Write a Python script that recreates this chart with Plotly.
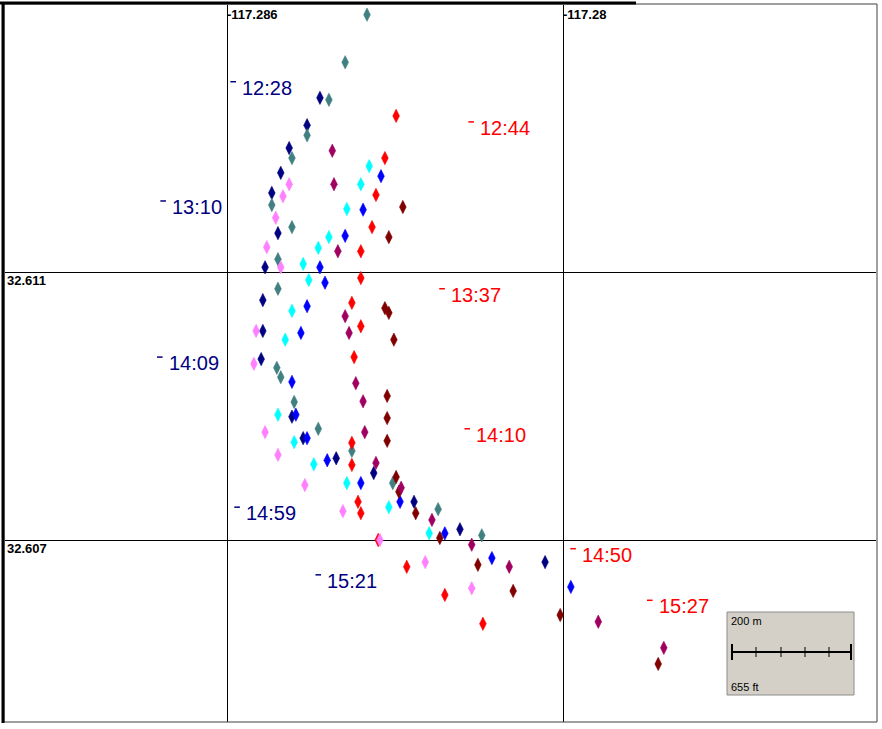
import plotly.graph_objects as go

# ---------------- data (lon, lat) ----------------
navy_lon = [-117.28434, -117.28457, -117.28489, -117.28504, -117.28520, -117.28509, -117.28532, -117.28536,
            -117.28536, -117.28539, -117.28484, -117.28464, -117.28405, -117.28338, -117.28266, -117.28184, -117.28032]
navy_lat = [32.61360, 32.61319, 32.61285, 32.61248, 32.61218, 32.61158, 32.61107, 32.61058,
            32.61012, 32.60970, 32.60884, 32.60852, 32.60822, 32.60800, 32.60757, 32.60716, 32.60667]

teal_lon = [-117.28350, -117.28389, -117.28418, -117.28457, -117.28484, -117.28520, -117.28484, -117.28509,
            -117.28509, -117.28511, -117.28504, -117.28480, -117.28437, -117.28377, -117.28304, -117.28223, -117.28145]
teal_lat = [32.61484, 32.61413, 32.61357, 32.61304, 32.61270, 32.61200, 32.61167, 32.61119,
            32.61075, 32.60957, 32.60943, 32.60906, 32.60866, 32.60833, 32.60785, 32.60746, 32.60707]

violet_lon = [-117.28489, -117.28500, -117.28513, -117.28529, -117.28504, -117.28548, -117.28552,
              -117.28532, -117.28509, -117.28461, -117.28393, -117.28327, -117.28246, -117.28163]
violet_lat = [32.61231, 32.61213, 32.61181, 32.61137, 32.61107, 32.61012, 32.60963,
              32.60861, 32.60827, 32.60782, 32.60743, 32.60700, 32.60667, 32.60628]

cyan_lon = [-117.28346, -117.28361, -117.28386, -117.28418, -117.28437, -117.28464, -117.28454, -117.28484,
            -117.28496, -117.28509, -117.28480, -117.28445, -117.28386, -117.28311, -117.28239]
cyan_lat = [32.61258, 32.61231, 32.61194, 32.61152, 32.61136, 32.61112, 32.61088, 32.61042,
            32.60999, 32.60887, 32.60846, 32.60813, 32.60785, 32.60749, 32.60710]

blue_lon = [-117.28325, -117.28357, -117.28389, -117.28434, -117.28425, -117.28457, -117.28468, -117.28484,
            -117.28477, -117.28457, -117.28421, -117.28361, -117.28291, -117.28211, -117.28127, -117.27986]
blue_lat = [32.61243, 32.61193, 32.61154, 32.61107, 32.61084, 32.61049, 32.61009, 32.60936,
            32.60887, 32.60852, 32.60819, 32.60785, 32.60757, 32.60710, 32.60673, 32.60630]

red_lon = [-117.28298, -117.28318, -117.28334, -117.28341, -117.28361, -117.28361, -117.28377, -117.28361,
           -117.28373, -117.28377, -117.28377, -117.28366, -117.28361, -117.28330, -117.28279, -117.28211, -117.28143]
red_lat = [32.61333, 32.61270, 32.61215, 32.61167, 32.61131, 32.61091, 32.61054, 32.61019,
           32.60973, 32.60845, 32.60812, 32.60757, 32.60740, 32.60700, 32.60660, 32.60618, 32.60575]

maroon_lon = [-117.28286, -117.28311, -117.28318, -117.28311, -117.28302, -117.28314, -117.28314, -117.28314,
              -117.28298, -117.28293, -117.28263, -117.28220, -117.28152, -117.28089, -117.28005, -117.27830]
maroon_lat = [32.61197, 32.61152, 32.61046, 32.61039, 32.60999, 32.60915, 32.60882, 32.60848,
              32.60794, 32.60772, 32.60740, 32.60703, 32.60663, 32.60624, 32.60588, 32.60515]

crimson_lon = [-117.28412, -117.28409, -117.28402, -117.28389, -117.28382, -117.28370, -117.28357, -117.28354,
               -117.28334, -117.28289, -117.28234, -117.28163, -117.28096, -117.27937, -117.27820]
crimson_lat = [32.61281, 32.61231, 32.61131, 32.61034, 32.61009, 32.60934, 32.60907, 32.60861,
               32.60815, 32.60778, 32.60730, 32.60693, 32.60660, 32.60578, 32.60539]

# time labels
navy_label_text = ["12:28", "13:10", "14:09", "14:59", "15:21"]
navy_label_lon = [-117.28589, -117.28714, -117.28720, -117.28582, -117.28437]
navy_label_lat = [32.61384, 32.61206, 32.60973, 32.60749, 32.60648]
red_label_text = ["12:44", "13:37", "14:10", "14:50", "15:27"]
red_label_lon = [-117.28164, -117.28216, -117.28171, -117.27982, -117.27845]
red_label_lat = [32.61324, 32.61075, 32.60866, 32.60687, 32.60610]

lon_ticks = [-117.286, -117.28]
lon_tick_text = ["-117.286", "-117.28"]
lat_ticks = [32.611, 32.607]
lat_tick_text = ["32.611", "32.607"]

scale_top_text = "200 m"
scale_bottom_text = "655 ft"

# ---------------- figure ----------------
W, H = 882, 729
ML, MR, MT, MB = 5, 6, 5, 7
PW, PH = W - ML - MR, H - MT - MB


def px(x):
    return (x - ML) / PW


def py(y):
    return (H - MB - y) / PH


fig = go.Figure()

series = [
    (navy_lon, navy_lat, "#000080"),
    (teal_lon, teal_lat, "#408080"),
    (red_lon, red_lat, "#FF0000"),
    (violet_lon, violet_lat, "#FF80FF"),
    (cyan_lon, cyan_lat, "#00FFFF"),
    (blue_lon, blue_lat, "#0000FF"),
    (maroon_lon, maroon_lat, "#800000"),
    (crimson_lon, crimson_lat, "#A00060"),
]
for lon, lat, col in series:
    fig.add_trace(go.Scatter(
        x=lon, y=lat, mode="markers",
        marker=dict(symbol="diamond-tall", size=9.5, color=col, line=dict(width=0.6, color=col)),
        showlegend=False, hoverinfo="x+y"))

annotations = []
for texts, lons, lats, col in [(navy_label_text, navy_label_lon, navy_label_lat, "#000080"),
                               (red_label_text, red_label_lon, red_label_lat, "#FF0000")]:
    fig.add_trace(go.Scatter(
        x=lons, y=lats, mode="markers",
        marker=dict(symbol="line-ew", size=4, line=dict(width=1.5, color=col)),
        showlegend=False, hoverinfo="skip"))
    for t, lo, la in zip(texts, lons, lats):
        annotations.append(dict(x=lo, y=la, text=t, showarrow=False, xanchor="left", yanchor="middle",
                                xshift=8, yshift=-6, borderpad=0,
                                font=dict(family="Liberation Sans, Arial", size=20, color=col)))

for v, t in zip(lon_ticks, lon_tick_text):
    annotations.append(dict(x=v, y=1, xref="x", yref="paper", text="<b>%s</b>" % t, showarrow=False,
                            xanchor="left", yanchor="top", xshift=-1, yshift=-1, borderpad=0,
                            font=dict(family="Liberation Sans, Arial", size=13, color="black")))
for v, t in zip(lat_ticks, lat_tick_text):
    annotations.append(dict(x=0, y=v, xref="paper", yref="y", text="<b>%s</b>" % t, showarrow=False,
                            xanchor="left", yanchor="top", xshift=1, yshift=0, borderpad=0,
                            font=dict(family="Liberation Sans, Arial", size=13, color="black")))

# scale bar box
shapes = []
shapes.append(dict(type="rect", xref="paper", yref="paper", x0=px(727), x1=px(854), y0=py(695), y1=py(612),
                   fillcolor="#D4D0C8", line=dict(color="#8C8C8C", width=1), layer="above"))
shapes.append(dict(type="line", xref="paper", yref="paper", x0=px(732), x1=px(851), y0=py(652), y1=py(652),
                   line=dict(color="black", width=2), layer="above"))
for tx in [732, 851]:
    shapes.append(dict(type="line", xref="paper", yref="paper", x0=px(tx), x1=px(tx), y0=py(660), y1=py(644),
                       line=dict(color="black", width=2), layer="above"))
for tx in [756, 781, 805, 829]:
    shapes.append(dict(type="line", xref="paper", yref="paper", x0=px(tx), x1=px(tx), y0=py(657), y1=py(647),
                       line=dict(color="black", width=1), layer="above"))
annotations.append(dict(x=px(730), y=py(621), xref="paper", yref="paper", text=scale_top_text, showarrow=False,
                        xanchor="left", yanchor="middle", borderpad=0,
                        font=dict(family="Liberation Sans, Arial", size=11, color="black")))
annotations.append(dict(x=px(730), y=py(687), xref="paper", yref="paper", text=scale_bottom_text, showarrow=False,
                        xanchor="left", yanchor="middle", borderpad=0,
                        font=dict(family="Liberation Sans, Arial", size=11, color="black")))

# window frame
shapes.append(dict(type="rect", xref="paper", yref="paper", x0=px(4), x1=px(877), y0=py(722), y1=py(4),
                   line=dict(color="#404040", width=1), layer="above"))
shapes.append(dict(type="line", xref="paper", yref="paper", x0=px(0), x1=px(636), y0=py(3), y1=py(3),
                   line=dict(color="black", width=3), layer="above"))
shapes.append(dict(type="line", xref="paper", yref="paper", x0=px(3), x1=px(3), y0=py(723), y1=py(2),
                   line=dict(color="black", width=3), layer="above"))

fig.update_layout(
    width=W, height=H,
    margin=dict(l=ML, r=MR, t=MT, b=MB, pad=0),
    paper_bgcolor="white", plot_bgcolor="white",
    xaxis=dict(range=[-117.2899643, -117.2744107], tickvals=lon_ticks, showticklabels=False,
               showgrid=True, gridcolor="black", gridwidth=1, zeroline=False, showline=False, ticks=""),
    yaxis=dict(range=[32.6042836, 32.6149851], tickvals=lat_ticks, showticklabels=False,
               showgrid=True, gridcolor="black", gridwidth=1, zeroline=False, showline=False, ticks=""),
    shapes=shapes, annotations=annotations,
    showlegend=False,
)

fig.write_html("out.html", config={"displayModeBar": False},
               post_script="document.body.style.margin='0';document.body.style.overflow='hidden';")
